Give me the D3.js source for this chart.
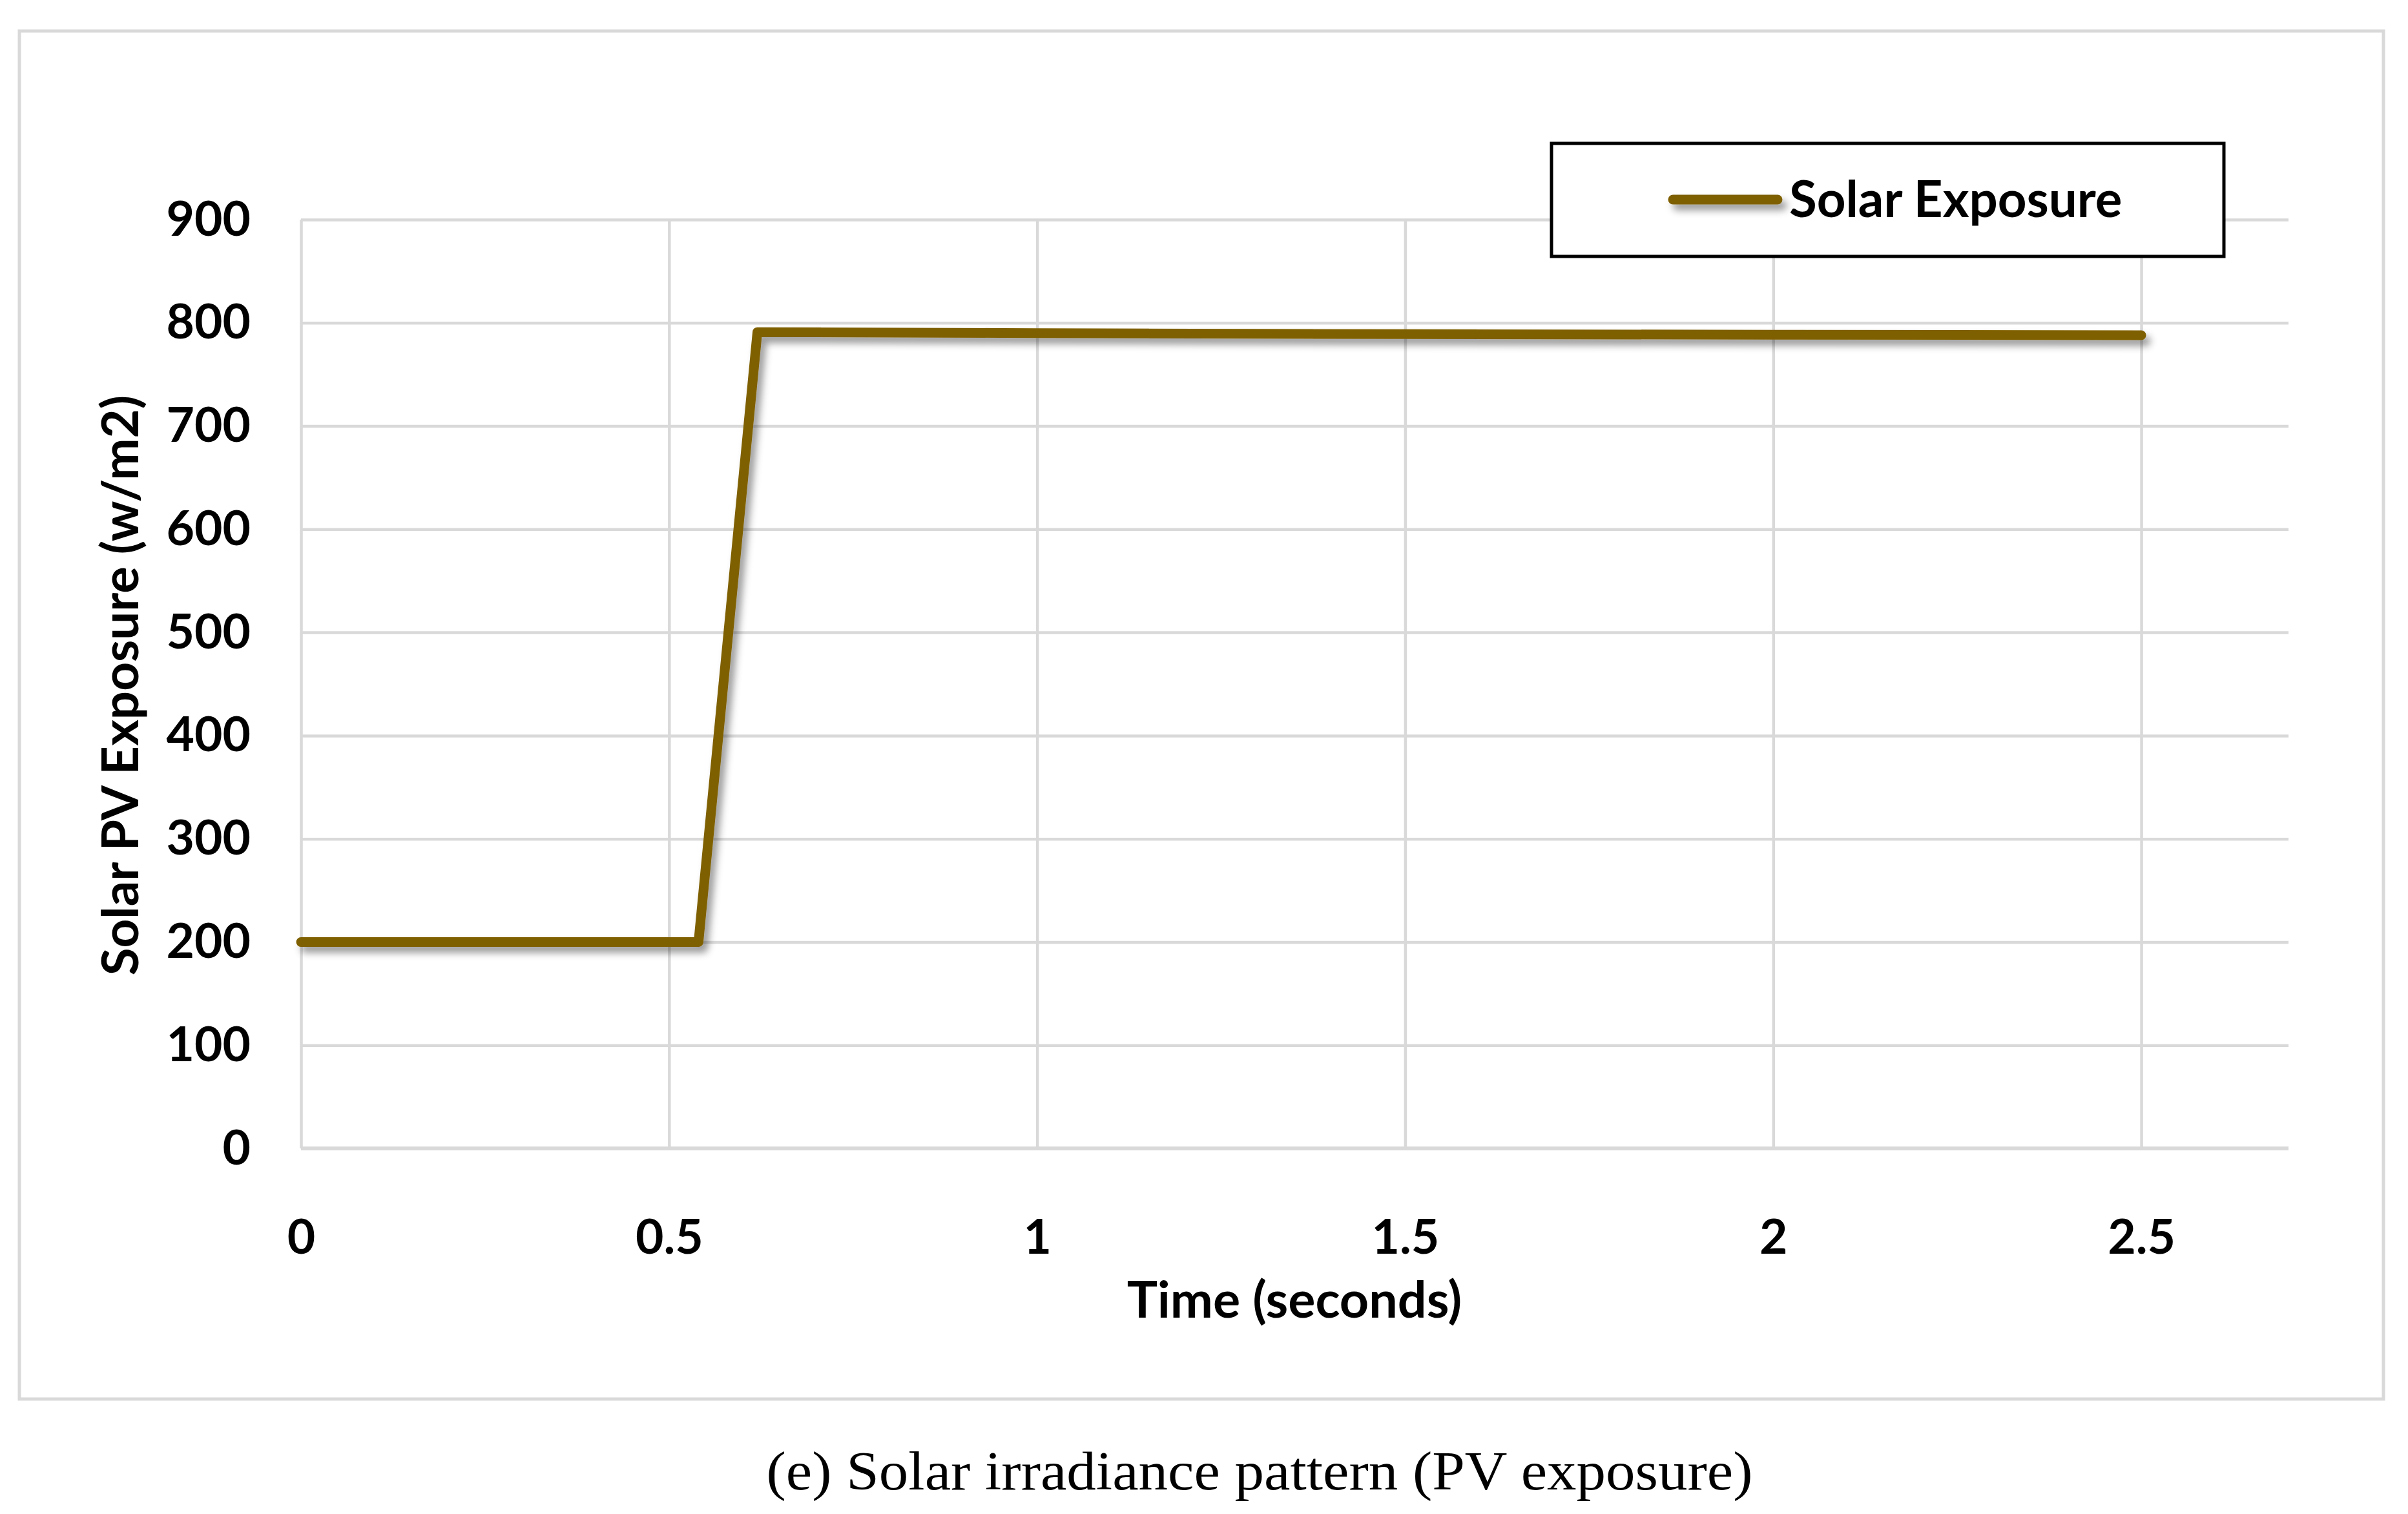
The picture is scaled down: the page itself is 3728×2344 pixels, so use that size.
<!DOCTYPE html>
<html>
<head>
<meta charset="utf-8">
<script src="https://cdn.jsdelivr.net/npm/d3@7"></script>
<style>
  html, body { margin: 0; padding: 0; background: #fff; }
</style>
</head>
<body>
<script>
// data
var timeSec = [0, 0.54, 0.62, 1.0, 1.5, 2.0, 2.5];
var exposure = [200, 200, 791, 790, 789, 788.5, 788];
var xTicks = [0, 0.5, 1, 1.5, 2, 2.5];
var yTicks = [0, 100, 200, 300, 400, 500, 600, 700, 800, 900];
var seriesName = "Solar Exposure";
var xTitle = "Time (seconds)";
var yTitle = "Solar PV Exposure (w/m2)";
var caption = "(e) Solar irradiance pattern (PV exposure)";

var outerWidth = 3728,
  outerHeight = 2344,
  plot = {left: 466, right: 3543, top: 340, bottom: 1778};

var svg = d3.select("body").append("svg")
  .attr("width", outerWidth)
  .attr("height", outerHeight)
  .style("display", "block");

// soft shadow under the series line (user space so flat lines keep it)
var defs = svg.append("defs");
var shadow = defs.append("filter").attr("id", "shadow")
  .attr("filterUnits", "userSpaceOnUse")
  .attr("x", 0).attr("y", 0).attr("width", outerWidth).attr("height", outerHeight);
shadow.append("feDropShadow")
  .attr("dx", 7).attr("dy", 9).attr("stdDeviation", 6)
  .attr("flood-color", "#000").attr("flood-opacity", 0.4);

// outer chart frame
svg.append("rect")
  .attr("x", 30).attr("y", 48)
  .attr("width", 3660).attr("height", 2118)
  .attr("fill", "#fff").attr("stroke", "#d9d9d9").attr("stroke-width", 5);

var xScale = d3.scaleLinear().domain([0, 2.7]).range([plot.left, plot.right]);
var yScale = d3.scaleLinear().domain([0, 900]).range([plot.bottom, plot.top]);

var font = "Lato, 'Open Sans', sans-serif";

// horizontal grid
svg.append("g")
  .attr("transform", "translate(" + plot.left + ",0)")
  .call(d3.axisLeft(yScale).tickValues(yTicks).tickSize(-(plot.right - plot.left)).tickFormat(""))
  .call(function(g) {
    g.select(".domain").remove();
    g.selectAll("line").attr("stroke", "#d9d9d9").attr("stroke-width", 4.5);
  });

// vertical grid
svg.append("g")
  .attr("transform", "translate(0," + plot.bottom + ")")
  .call(d3.axisBottom(xScale).tickValues(xTicks).tickSize(-(plot.bottom - plot.top)).tickFormat(""))
  .call(function(g) {
    g.select(".domain").remove();
    g.selectAll("line").attr("stroke", "#d9d9d9").attr("stroke-width", 4.5);
  });

// x axis baseline
svg.append("line")
  .attr("x1", plot.left).attr("x2", plot.right)
  .attr("y1", yScale(0)).attr("y2", yScale(0))
  .attr("stroke", "#d9d9d9").attr("stroke-width", 6);

// tick labels
svg.append("g")
  .attr("transform", "translate(0," + plot.bottom + ")")
  .call(d3.axisBottom(xScale).tickValues(xTicks).tickSize(0).tickPadding(110).tickFormat(d3.format("")))
  .call(function(g) {
    g.select(".domain").remove();
    g.selectAll("text").attr("font-family", font).attr("font-weight", 700)
      .attr("font-size", 75).attr("fill", "#000");
  });

svg.append("g")
  .attr("transform", "translate(" + plot.left + ",0)")
  .call(d3.axisLeft(yScale).tickValues(yTicks).tickSize(0).tickPadding(78))
  .call(function(g) {
    g.select(".domain").remove();
    g.selectAll("text").attr("font-family", font).attr("font-weight", 700)
      .attr("font-size", 75).attr("fill", "#000");
  });

// axis titles
svg.append("text")
  .attr("x", 2004).attr("y", 2040)
  .attr("text-anchor", "middle")
  .attr("font-family", font).attr("font-weight", 700).attr("font-size", 79)
  .text(xTitle);

svg.append("text")
  .attr("transform", "translate(214,1061) rotate(-90)")
  .attr("text-anchor", "middle")
  .attr("font-family", font).attr("font-weight", 700).attr("font-size", 78)
  .text(yTitle);

// series
var points = timeSec.map(function(t, i) { return [t, exposure[i]]; });
var line = d3.line()
  .x(function(d) { return xScale(d[0]); })
  .y(function(d) { return yScale(d[1]); });

svg.append("path")
  .datum(points)
  .attr("d", line)
  .attr("fill", "none")
  .attr("stroke", "#7f6000")
  .attr("stroke-width", 15)
  .attr("stroke-linejoin", "round")
  .attr("stroke-linecap", "round")
  .attr("filter", "url(#shadow)");

// legend
var legend = svg.append("g");
legend.append("rect")
  .attr("x", 2402).attr("y", 222)
  .attr("width", 1041).attr("height", 175)
  .attr("fill", "#fff").attr("stroke", "#000").attr("stroke-width", 5);
legend.append("line")
  .attr("x1", 2590).attr("x2", 2752)
  .attr("y1", 309).attr("y2", 309)
  .attr("stroke", "#7f6000").attr("stroke-width", 15)
  .attr("stroke-linecap", "round")
  .attr("filter", "url(#shadow)");
legend.append("text")
  .attr("x", 2770).attr("y", 309)
  .attr("dy", "0.35em")
  .attr("font-family", font).attr("font-weight", 700).attr("font-size", 78)
  .text(seriesName);

// caption below frame
svg.append("text")
  .attr("x", 1950).attr("y", 2306)
  .attr("text-anchor", "middle")
  .attr("font-family", "'Liberation Serif', 'DejaVu Serif', serif")
  .attr("font-size", 84)
  .attr("textLength", 1527)
  .attr("lengthAdjust", "spacingAndGlyphs")
  .text(caption);
</script>
</body>
</html>
